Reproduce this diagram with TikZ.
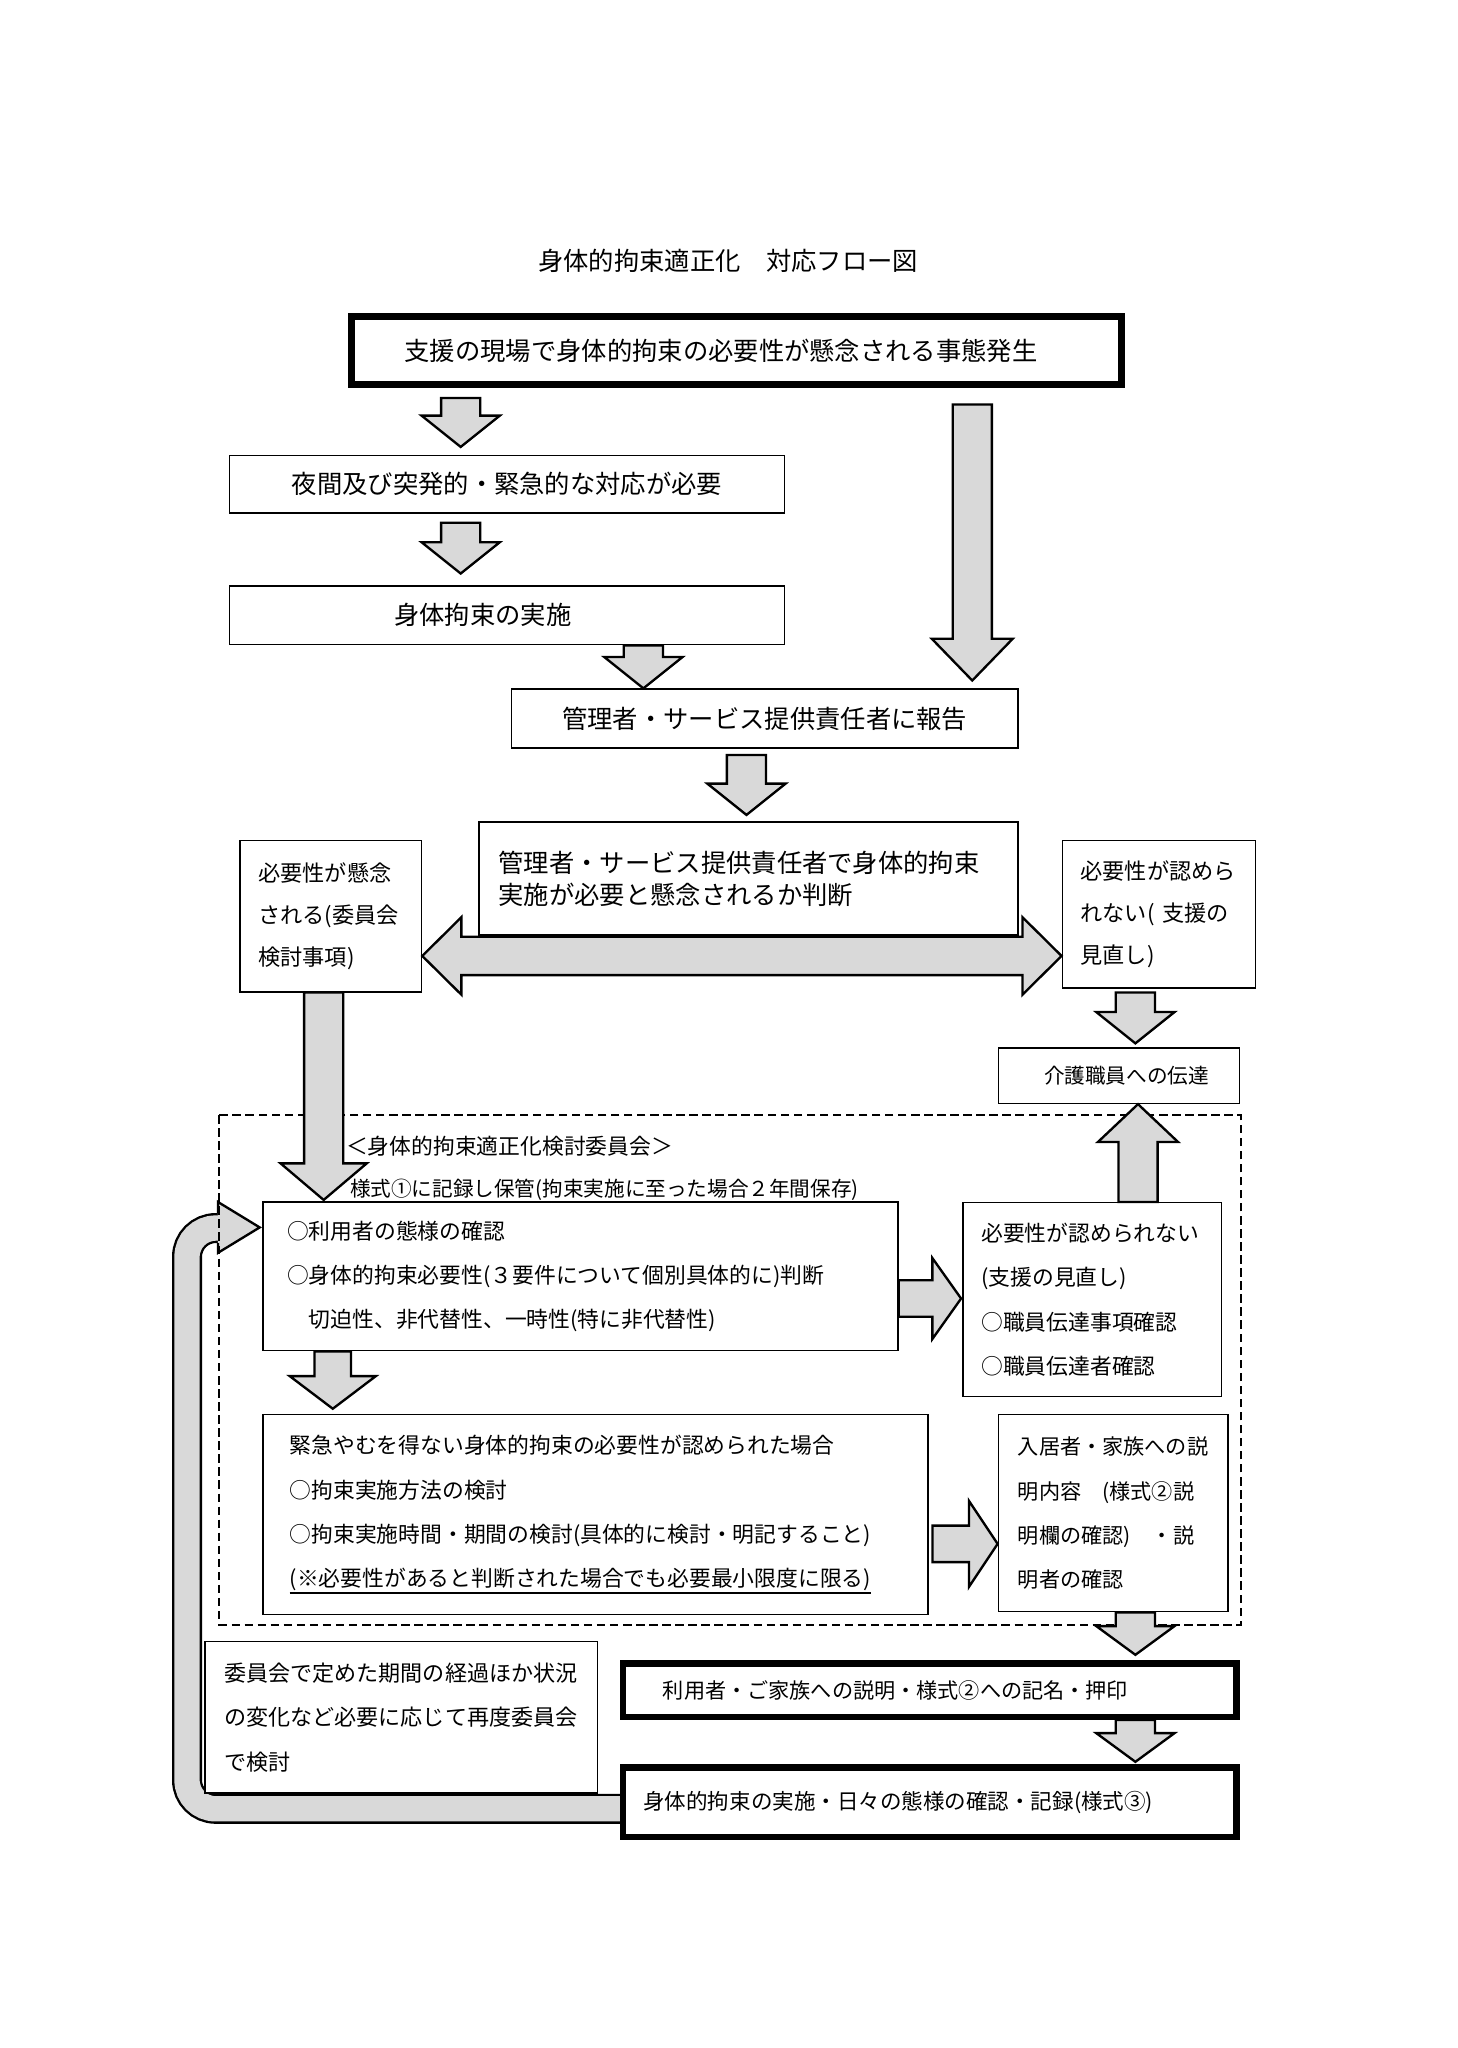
\documentclass[tikz,border=0pt]{standalone}
\usepackage{fontspec}
\setmainfont{Noto Sans CJK JP}
\usetikzlibrary{calc}
\definecolor{arrgray}{RGB}{217,217,217}
\tikzset{
  box/.style={draw, line width=1.1pt, fill=white, inner ysep=0pt, align=left},
  thickbox/.style={box, line width=5pt},
  barrow/.style={draw, line width=1.8pt, fill=arrgray, line join=miter},
  dashbox/.style={draw, line width=1.6pt, dash pattern=on 6.5pt off 3.5pt},
  fbig/.style={font=\fontsize{19.4pt}{24.5pt}\selectfont},
  fsmall/.style={font=\fontsize{17pt}{32pt}\selectfont},
  fmid/.style={font=\fontsize{16.7pt}{34pt}\selectfont},
  flow/.style={font=\fontsize{16.2pt}{34pt}\selectfont},
}
\def\sh{15pt}\def\hh{30pt}\def\hl{24pt}
\newcommand\bx[8]{%
  \pgfmathsetmacro\bxw{#5-#3-2*#7}%
  \pgfmathsetmacro\bxh{#6-#4}%
  \pgfmathsetmacro\bxcx{(#3+#5)/2}%
  \pgfmathsetmacro\bxcy{(#4+#6)/2}%
  \node[#1, text width=\bxw pt, inner xsep=#7pt, minimum height=\bxh pt] (#2) at (\bxcx,\bxcy) {#8};}
\newcommand\darr[5]{\draw[barrow] let \p1=(#2), \p2=(#4) in
  (#1pt-\sh,\y1-#3pt) -- (#1pt-\sh,\y2+#5pt+\hl) -- (#1pt-\hh,\y2+#5pt+\hl) -- (#1pt,\y2+#5pt)
  -- (#1pt+\hh,\y2+#5pt+\hl) -- (#1pt+\sh,\y2+#5pt+\hl) -- (#1pt+\sh,\y1-#3pt) -- cycle;}
\newcommand\uarr[5]{\draw[barrow] let \p1=(#2), \p2=(#4) in
  (#1pt-\sh,\y1+#3pt) -- (#1pt-\sh,\y2-#5pt-\hl) -- (#1pt-\hh,\y2-#5pt-\hl) -- (#1pt,\y2-#5pt)
  -- (#1pt+\hh,\y2-#5pt-\hl) -- (#1pt+\sh,\y2-#5pt-\hl) -- (#1pt+\sh,\y1+#3pt) -- cycle;}
\newcommand\rarr[5]{\draw[barrow] let \p1=(#2), \p2=(#4) in
  (\x1+#3pt,-#1pt+\sh) -- (\x2-#5pt-\hl,-#1pt+\sh) -- (\x2-#5pt-\hl,-#1pt+\hh) -- (\x2-#5pt,-#1pt)
  -- (\x2-#5pt-\hl,-#1pt-\hh) -- (\x2-#5pt-\hl,-#1pt-\sh) -- (\x1+#3pt,-#1pt-\sh) -- cycle;}
\newcommand\lrarr[3]{\draw[barrow] let \p1=(#2), \p2=(#3) in
  (\x1,-#1pt) -- (\x1+\hl,-#1pt+\hh) -- (\x1+\hl,-#1pt+\sh) -- (\x2-\hl,-#1pt+\sh) -- (\x2-\hl,-#1pt+\hh)
  -- (\x2,-#1pt) -- (\x2-\hl,-#1pt-\hh) -- (\x2-\hl,-#1pt-\sh) -- (\x1+\hl,-#1pt-\sh) -- (\x1+\hl,-#1pt-\hh) -- cycle;}
\newcommand\myul[1]{\vtop{\hbox{#1}\kern0.5pt\hrule height 1.3pt}}
\begin{document}
\begin{tikzpicture}[x=1pt,y=-1pt]
\useasboundingbox[fill=white] (0,0) rectangle (1116.5,1569.3);

% title
\node[fbig, inner sep=0pt] (title) at (558,200) {身体的拘束適正化　対応フロー図};

% feedback loop (drawn first, behind boxes)
\coordinate (loopS) at (490,1386);
\coordinate (loopA) at (143.3,1386);
\coordinate (loopB) at (143.3,941);
\coordinate (loopE) at (176,941);
\draw[line width=23pt, rounded corners=22pt] (loopS) -- (loopA) -- (loopB) -- (loopE);
\draw[line width=19.4pt, arrgray, rounded corners=22pt] (loopS) -- (loopA) -- (loopB) -- (loopE);
\coordinate (headT) at (167,921);
\coordinate (headTip) at (199,940.5);
\coordinate (headB) at (167,960);
\fill[arrgray] (headT) -- (headTip) -- (headB) -- cycle;
\draw[line width=1.8pt, line join=miter] (167,929.5) -- (headT) -- (headTip) -- (headB) -- (167,952.5);

% dashed committee frame
\draw[dashbox] (168,854.4) rectangle (950.7,1245);
\node[fmid, anchor=west, inner sep=0pt] (cmhead) at (265,878) {＜身体的拘束適正化検討委員会＞};
\node[font=\fontsize{15.8pt}{20pt}\selectfont, anchor=west, inner sep=0pt] (cmrec) at (268,912) {様式①に記録し保管(拘束実施に至った場合２年間保存)};

% boxes
\bx{thickbox,fbig}{occur}{269.5}{242.5}{859.5}{294.5}{40.5}{支援の現場で身体的拘束の必要性が懸念される事態発生}
\bx{box,fbig,align=center}{night}{176}{349}{601}{393}{10}{夜間及び突発的・緊急的な対応が必要}
\bx{box,fbig}{impl}{176}{449}{601}{494}{126}{身体拘束の実施}
\bx{box,fbig,align=center}{report}{392}{528}{780}{573}{10}{管理者・サービス提供責任者に報告}
\bx{box,fbig}{judge}{367}{630}{780}{716.5}{15}{管理者・サービス提供責任者で身体的拘束\\実施が必要と懸念されるか判断}
\bx{box,fsmall}{concern}{184}{644}{323}{760}{14}{必要性が懸念\\される(委員会\\検討事項)}
\bx{box,fsmall}{notrec}{814}{644}{962}{757}{14}{必要性が認めら\\れない( 支援の\\見直し)}
\bx{box,font=\fontsize{15.8pt}{20pt}\selectfont}{staff}{765}{803}{949.7}{845.5}{35}{介護職員への伝達}
\bx{box,fmid}{check}{201.6}{921}{688}{1035}{18.4}{○利用者の態様の確認\\○身体的拘束必要性(３要件について個別具体的に)判断\\　切迫性、非代替性、一時性(特に非代替性)}
\bx{box,fmid}{review}{738}{921.6}{936}{1070}{14}{必要性が認められない\\(支援の見直し)\\○職員伝達事項確認\\○職員伝達者確認}
\bx{box,fmid}{urgent}{201.6}{1084}{711}{1237}{20.4}{緊急やむを得ない身体的拘束の必要性が認められた場合\\○拘束実施方法の検討\\○拘束実施時間・期間の検討(具体的に検討・明記すること)\\\myul{(※必要性があると判断された場合でも必要最小限度に限る)}}
\bx{box,flow}{explain}{765}{1084}{941}{1235}{15}{入居者・家族への説\\明内容　(様式②説\\明欄の確認)　・説\\明者の確認}
\bx{thickbox,flow}{sign}{477.5}{1274.5}{947.5}{1315.5}{30.5}{利用者・ご家族への説明・様式②への記名・押印}
\bx{thickbox,font=\fontsize{16.5pt}{20pt}\selectfont}{exec}{477.5}{1354.5}{947.5}{1407.5}{15.5}{身体的拘束の実施・日々の態様の確認・記録(様式③)}
\bx{box,fsmall,font=\fontsize{16.9pt}{34pt}\selectfont}{again}{157}{1258}{458}{1374}{15}{委員会で定めた期間の経過ほか状況\\の変化など必要に応じて再度委員会\\で検討}

% block arrows
\darr{353}{occur.south}{8}{night.north}{6}
\darr{353}{night.south}{7}{impl.north}{9}
\darr{493}{impl.south}{0}{report.north}{0}
{\def\hh{31pt}\def\hl{32pt}\darr{745}{occur.south}{13}{report.north}{6}}
\darr{572}{report.south}{5}{judge.north}{5}
{\def\sh{14.7pt}\def\hh{29.7pt}\def\hl{30pt}\lrarr{732.5}{concern.east}{notrec.west}}
\darr{870}{notrec.south}{3}{staff.north}{3}
{\def\hh{33pt}\def\hl{28pt}\darr{248}{concern.south}{0}{check.north}{1}}
{\def\sh{14pt}\def\hh{31pt}\def\hl{22pt}\rarr{995}{check.east}{0}{review.west}{1}}
{\def\hh{30.7pt}\def\hl{29pt}\uarr{872}{review.north}{0}{staff.south}{0}}
{\def\sh{14pt}\def\hh{33pt}\def\hl{25pt}\darr{255}{check.south}{0}{urgent.north}{4}}
{\def\sh{14pt}\def\hh{33pt}\def\hl{22pt}\rarr{1183}{urgent.east}{3}{explain.west}{0}}
{\def\hl{22pt}\darr{870}{explain.south}{0}{sign.north}{4}}
{\def\hl{22pt}\darr{870}{sign.south}{0}{exec.north}{2}}
\end{tikzpicture}
\end{document}
